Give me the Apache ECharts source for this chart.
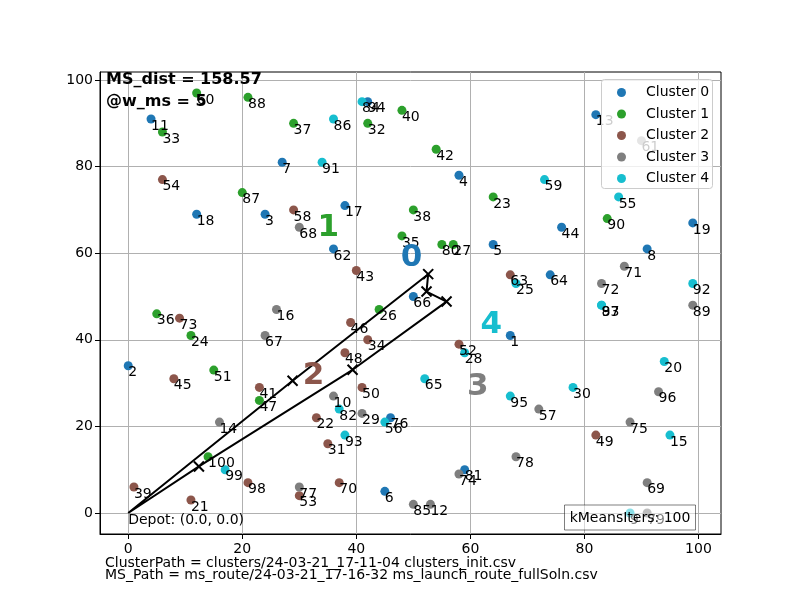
<!DOCTYPE html>
<html lang="en">
<head>
<meta charset="UTF-8">
<title>MS clusters</title>
<script src="https://cdn.jsdelivr.net/npm/echarts@6/dist/echarts.min.js"></script>
</head>
<body style="margin:0">
<div id="main" style="width:800px;height:600px;"></div>
<script>
// points per cluster: [x, y, index]
var cluster0 = [[4,91,11],[27,81,7],[12,69,18],[24,69,3],[42,95,94],[58,78,4],[38,71,17],[82,92,13],[76,66,44],[99,67,19],
                [36,61,62],[64,62,5],[50,50,66],[67,41,1],[74,55,64],[91,61,8],[0,34,2],[46,22,76],[45,5,6],[59,10,81]];
var cluster1 = [[12,97,60],[6,88,33],[21,96,88],[29,90,37],[20,74,87],[42,90,32],[48,93,40],[54,84,42],[64,73,23],[50,70,38],
                [84,68,90],[48,64,35],[55,62,80],[57,62,27],[44,47,26],[5,46,36],[11,41,24],[15,33,51],[23,26,47],[14,13,100]];
var cluster2 = [[6,77,54],[29,70,58],[40,56,43],[39,44,46],[42,40,34],[38,37,48],[58,39,52],[67,55,63],[9,45,73],[8,31,45],
                [23,29,41],[21,7,98],[1,6,39],[11,3,21],[30,4,53],[41,29,50],[33,22,22],[35,16,31],[37,7,70],[82,18,49]];
var cluster3 = [[30,66,68],[90,86,61],[87,57,71],[83,53,72],[99,48,89],[26,47,16],[24,41,67],[16,21,14],[30,6,77],[36,27,10],
                [41,23,29],[50,2,85],[53,2,12],[58,9,74],[68,13,78],[72,24,57],[93,28,96],[88,21,75],[91,7,69],[91,0,79]];
var cluster4 = [[41,95,84],[36,91,86],[34,81,91],[73,77,59],[86,73,55],[59,37,28],[68,53,25],[83,48,97],[83,48,83],[99,53,92],
                [94,35,20],[17,10,99],[52,31,65],[37,24,82],[45,21,56],[38,18,93],[67,27,95],[78,29,30],[95,18,15],[88,0,9]];

var clusterNames = ['Cluster 0', 'Cluster 1', 'Cluster 2', 'Cluster 3', 'Cluster 4'];
var clusterColors = ['#1f77b4', '#2ca02c', '#8c564b', '#7f7f7f', '#17becf'];
var clusterCenters = [[49.7, 59.0], [35.1, 65.85], [32.5, 31.75], [61.3, 29.05], [63.65, 43.45]];

// mothership route, starts and ends at depot
var route = [[0,0],[28.82,30.53],[52.6,55.16],[52.31,51.14],[55.82,48.83],[39.34,33.07],[12.4,10.75],[0,0]];

var ticks = [0, 20, 40, 60, 80, 100];

var chart = echarts.init(document.getElementById('main'));
var font = 'DejaVu Sans';
var hidden = { color: 'rgba(0,0,0,0)', opacity: 1 };

var series = [];
[cluster0, cluster1, cluster2, cluster3, cluster4].forEach(function (pts, i) {
    series.push({
        name: clusterNames[i],
        type: 'scatter',
        data: pts,
        symbolSize: 9,
        itemStyle: { color: clusterColors[i], opacity: 1 },
        label: {
            show: true, position: ['50%', '50%'], align: 'left', verticalAlign: 'top',
            formatter: function (p) { return String(p.data[2]); },
            color: '#000', fontSize: 14, fontFamily: font
        },
        emphasis: { disabled: true }
    });
});

series.push({
    type: 'line',
    data: route.map(function (p, i) {
        return (i === 0 || i === route.length - 1) ? { value: p, symbol: 'none' } : p;
    }),
    symbol: 'path://M0,0L10,10M10,0L0,10',
    symbolSize: 10,
    showAllSymbol: true,
    itemStyle: { color: '#000', borderColor: '#000', borderWidth: 2 },
    lineStyle: { color: '#000', width: 2 },
    emphasis: { disabled: true },
    z: 3
});

series.push({
    type: 'scatter',
    data: [[0, 0]],
    symbolSize: 1,
    itemStyle: hidden,
    label: {
        show: true, position: ['50%', '50%'], align: 'left', verticalAlign: 'top',
        formatter: 'Depot: (0.0, 0.0)', color: '#000', fontSize: 14, fontFamily: font
    },
    emphasis: { disabled: true }
});

series.push({
    type: 'scatter',
    data: clusterCenters.map(function (c, i) {
        return { value: c, label: { color: clusterColors[i] } };
    }),
    symbolSize: 1,
    itemStyle: hidden,
    label: {
        show: true, position: ['50%', '50%'], align: 'center', verticalAlign: 'middle',
        formatter: function (p) { return String(p.dataIndex); },
        fontSize: 31, fontWeight: 'bold', fontFamily: font
    },
    emphasis: { disabled: true },
    z: 3
});

function axis(min, max, margin) {
    return {
        type: 'value', min: min, max: max,
        axisLine: { show: true, onZero: false, lineStyle: { color: '#000', width: 1 } },
        axisTick: { show: true, customValues: ticks, length: 5, lineStyle: { color: '#000', width: 1 } },
        axisLabel: { customValues: ticks, margin: margin, color: '#000', fontSize: 14, fontFamily: font },
        splitLine: { show: true, lineStyle: { color: '#b0b0b0', width: 1 } }
    };
}

var option = {
    animation: false,
    backgroundColor: '#fff',
    grid: { left: 100, right: 79, top: 72, bottom: 66, show: true, borderColor: '#000', borderWidth: 1 },
    xAxis: axis(-4.95, 103.95, 8),
    yAxis: axis(-4.85, 101.85, 7),
    legend: {
        data: clusterNames, orient: 'vertical', left: 604, top: 79.5, align: 'left',
        icon: 'circle', itemWidth: 9, itemHeight: 9, itemGap: 5.5,
        padding: [5, 6, 5, 13],
        textStyle: { fontSize: 14, fontFamily: font, color: '#000', lineHeight: 16, padding: [0, 0, 0, 15] }
    },
    graphic: [
        // legend frame, under the legend entries but over the points
        { type: 'rect', z: 3.5, shape: { x: 601.5, y: 79.5, width: 111, height: 109, r: 3 },
          style: { fill: 'rgba(255,255,255,0.8)', stroke: '#cccccc', lineWidth: 1 } },
        { type: 'text', x: 106, y: 80, z: 100,
          style: { text: 'MS_dist = 158.57', font: 'bold 16px "DejaVu Sans"', fill: '#000', verticalAlign: 'middle' } },
        { type: 'text', x: 106, y: 102, z: 100,
          style: { text: '@w_ms = 5', font: 'bold 16px "DejaVu Sans"', fill: '#000', verticalAlign: 'middle' } },
        { type: 'rect', z: 100, shape: { x: 564.5, y: 505, width: 131, height: 25 },
          style: { fill: 'rgba(255,255,255,0.5)', stroke: 'rgba(0,0,0,0.5)', lineWidth: 1 } },
        { type: 'text', x: 630, y: 518, z: 101,
          style: { text: 'kMeansIters: 100', font: '14px "DejaVu Sans"', fill: '#000', align: 'center', verticalAlign: 'middle' } },
        { type: 'text', x: 105, y: 563, z: 100,
          style: { text: 'ClusterPath = clusters/24-03-21_17-11-04 clusters_init.csv', font: '14px "DejaVu Sans"', fill: '#000', verticalAlign: 'middle' } },
        { type: 'text', x: 105, y: 575, z: 100,
          style: { text: 'MS_Path = ms_route/24-03-21_17-16-32 ms_launch_route_fullSoln.csv', font: '14px "DejaVu Sans"', fill: '#000', verticalAlign: 'middle' } }
    ],
    series: series
};
chart.setOption(option);
</script>
</body>
</html>
